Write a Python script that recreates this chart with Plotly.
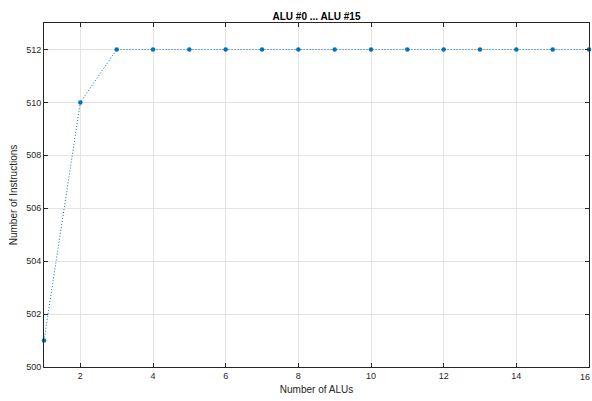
import plotly.graph_objects as go

# ALU count vs. number of instructions
num_alus = list(range(1, 17))
num_instructions = [501, 510, 512, 512, 512, 512, 512, 512, 512, 512, 512, 512, 512, 512, 512, 512]
x_ticks = [2, 4, 6, 8, 10, 12, 14, 16]
y_ticks = [500, 502, 504, 506, 508, 510, 512]

blue = "#0072BD"
axis_col = "#262626"
font = "Liberation Sans, Arial, sans-serif"

fig = go.Figure()
fig.add_trace(go.Scatter(
    x=num_alus, y=num_instructions, mode="lines+markers",
    line=dict(color=blue, width=1, dash="1px,2px"),
    marker=dict(color=blue, size=4.5),
    showlegend=False, cliponaxis=False,
))

axis_common = dict(
    showline=True, linecolor=axis_col, linewidth=1, mirror="ticks",
    ticks="inside", ticklen=4, tickcolor=axis_col,
    showgrid=True, gridcolor="#e3e3e3", gridwidth=1, zeroline=False,
    tickfont=dict(family=font, size=9, color=axis_col),
)

fig.update_xaxes(range=[1, 16], tickvals=x_ticks,
                 title=dict(text="Number of ALUs", font=dict(family=font, size=10, color=axis_col), standoff=6),
                 **axis_common)
fig.update_yaxes(range=[500, 513], tickvals=y_ticks,
                 title=dict(text="Number of Instructions", font=dict(family=font, size=10, color=axis_col), standoff=6),
                 **axis_common)

# the last x tick label sits on the figure edge; place it explicitly, kept inside the page
fig.add_annotation(x=1, y=0, xref="paper", yref="paper", xanchor="right", yanchor="top",
                   xshift=3, yshift=-3,
                   text=str(x_ticks[-1]), showarrow=False,
                   font=dict(family=font, size=9, color=axis_col))

fig.update_layout(
    width=592, height=401,
    margin=dict(l=44, r=3, t=23, b=34),
    paper_bgcolor="white", plot_bgcolor="white",
    title=dict(text="<b>ALU #0 ... ALU #15</b>", x=0.5, xanchor="center", xref="paper",
               y=1 - 16 / 401, yanchor="middle",
               font=dict(family=font, size=10, color="#000000")),
)

fig.write_html("out.html")
